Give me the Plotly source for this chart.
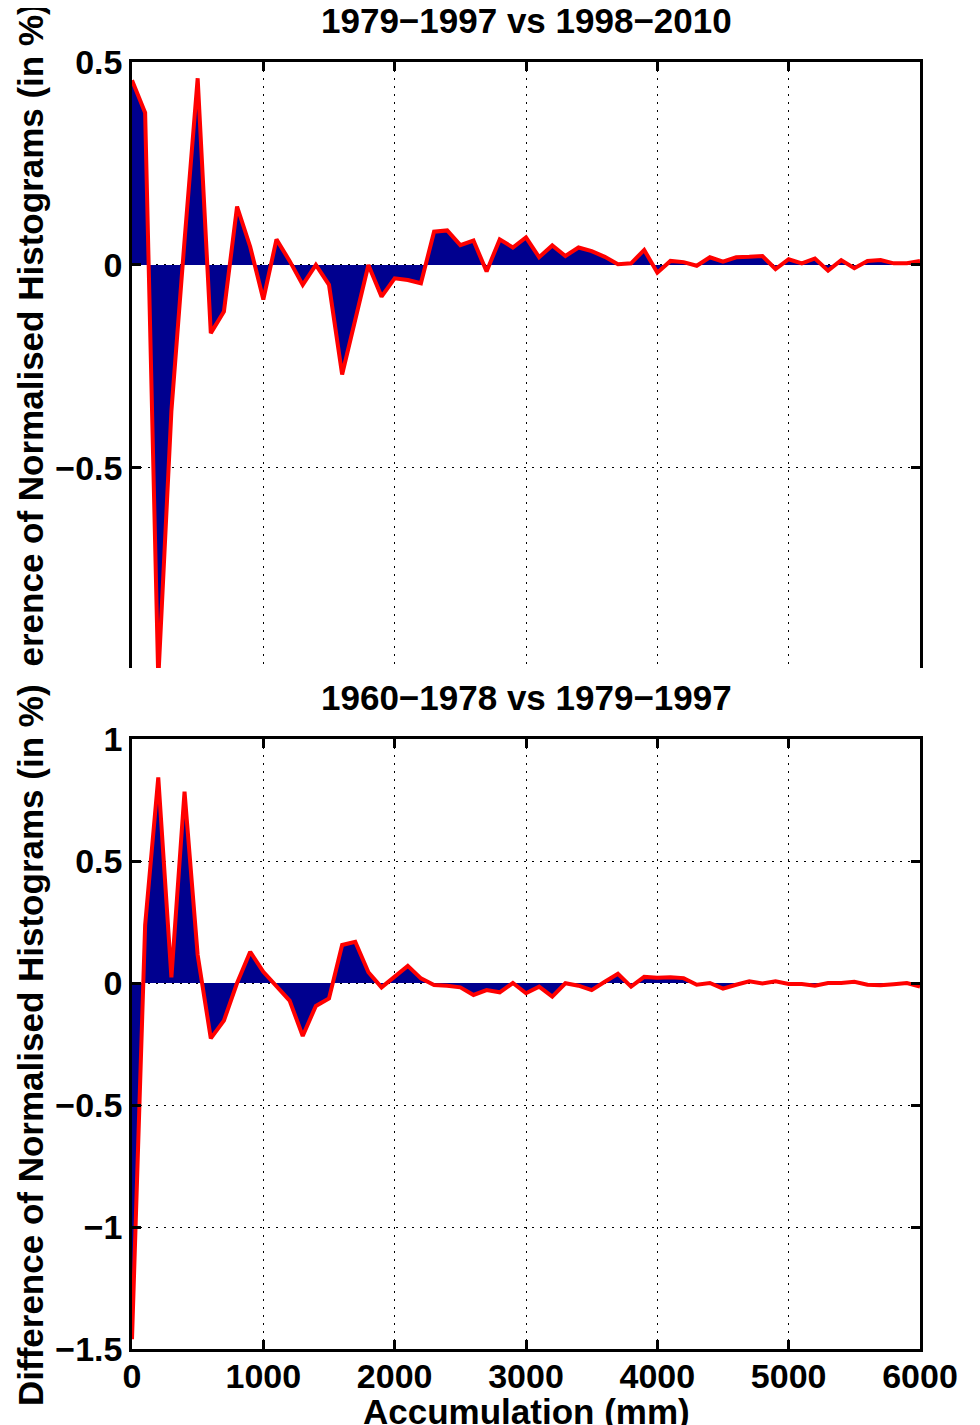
import plotly.graph_objects as go
from plotly.subplots import make_subplots

accumulation = list(range(0, 6001, 100))

diff_79_97_vs_98_10 = [
    0.455, 0.375, -1.02, -0.36, 0.06, 0.46, -0.168, -0.115, 0.144, 0.045,
    -0.085, 0.063, 0.01, -0.049, 0.0, -0.049, -0.27, -0.137, 0.0, -0.078,
    -0.033, -0.037, -0.045, 0.082, 0.085, 0.049, 0.06, -0.016, 0.063, 0.043,
    0.068, 0.019, 0.048, 0.022, 0.043, 0.034, 0.02, 0.002, 0.004, 0.037,
    -0.019, 0.01, 0.007, -0.002, 0.019, 0.008, 0.019, 0.02, 0.022, -0.01,
    0.014, 0.004, 0.016, -0.014, 0.012, -0.008, 0.01, 0.012, 0.004, 0.004,
    0.01,
]

diff_60_78_vs_79_97 = [
    -1.46, 0.237, 0.843, 0.023, 0.784, 0.115, -0.227, -0.154, 0.0, 0.128,
    0.046, -0.015, -0.072, -0.217, -0.094, -0.063, 0.156, 0.169, 0.044, -0.018,
    0.028, 0.07, 0.019, -0.008, -0.011, -0.018, -0.049, -0.029, -0.038, 0.0,
    -0.042, -0.015, -0.056, -0.001, -0.011, -0.029, 0.005, 0.038, -0.015, 0.025,
    0.022, 0.024, 0.02, -0.007, 0.0, -0.023, -0.007, 0.007, -0.002, 0.007,
    -0.004, -0.004, -0.011, 0.0, 0.0, 0.005, -0.007, -0.009, -0.005, 0.0,
    -0.015,
]

title_top = "1979\u22121997 vs 1998\u22122010"
title_bottom = "1960\u22121978 vs 1979\u22121997"
ylabel = "Difference of Normalised Histograms (in %)"
ylabel_top_visible = "erence of Normalised Histograms (in %)"
xlabel = "Accumulation (mm)"

W, H = 980, 1425
OFF = 8  # default page body margin
FONT = "Liberation Sans, Arial, Helvetica, sans-serif"
FS_TICK = 34
FS_TEXT = 35
NAVY = "rgb(0,0,143)"

def fx(p):
    return p - OFF

def py(p):
    return 1 - (p - OFF) / H

L, R = fx(132), fx(920)

def px(p):
    return (fx(p) - L) / (R - L)

fig = make_subplots(rows=2, cols=1)

fig.add_trace(go.Scatter(x=accumulation, y=diff_79_97_vs_98_10, mode="lines",
                         fill="tozeroy", fillcolor=NAVY,
                         line=dict(color="red", width=4),
                         showlegend=False), row=1, col=1)
fig.add_trace(go.Scatter(x=accumulation, y=diff_60_78_vs_79_97, mode="lines",
                         fill="tozeroy", fillcolor=NAVY,
                         line=dict(color="red", width=4),
                         showlegend=False), row=2, col=1)

grid = dict(showgrid=True, gridcolor="black", gridwidth=1.3, griddash="2px,6px",
            zeroline=False, ticks="inside", ticklen=9, tickwidth=2.5,
            tickcolor="black", linecolor="black", linewidth=2.5, showline=True,
            automargin=False,
            tickfont=dict(family=FONT, size=FS_TICK, color="black", weight="bold"))

xt = [0, 1000, 2000, 3000, 4000, 5000, 6000]

fig.update_layout(
    width=W, height=H,
    margin=dict(l=L, r=W - R, t=0, b=0, autoexpand=False),
    paper_bgcolor="white", plot_bgcolor="white",
    font=dict(family=FONT, size=FS_TEXT, color="black", weight="bold"),
    xaxis=dict(domain=[0, 1], range=[0, 6000], tickvals=xt,
               side="top", mirror=False, showticklabels=False, **grid),
    yaxis=dict(domain=[py(668), py(62)], range=[-0.993, 0.5], tickvals=[-0.5, 0, 0.5],
               mirror="ticks", **grid),
    xaxis2=dict(domain=[0, 1], range=[0, 6000], tickvals=xt,
                mirror="ticks", ticklabelstandoff=-5, **grid),
    yaxis2=dict(domain=[py(1349), py(739)], range=[-1.5, 1],
                tickvals=[-1.5, -1, -0.5, 0, 0.5, 1], mirror="ticks", **grid),
)

ann_font = dict(family=FONT, size=FS_TEXT, color="black", weight="bold")
fig.add_annotation(text=title_top, xref="paper", yref="paper", x=0.5, y=py(20),
                   xanchor="center", yanchor="middle", showarrow=False, font=ann_font)
fig.add_annotation(text=title_bottom, xref="paper", yref="paper", x=0.5, y=py(697),
                   xanchor="center", yanchor="middle", showarrow=False, font=ann_font)
fig.add_annotation(text=ylabel, xref="paper", yref="paper", x=px(30), y=py(1045),
                   xanchor="center", yanchor="middle", textangle=-90, showarrow=False,
                   font=ann_font)
fig.add_annotation(text=ylabel_top_visible, xref="paper", yref="paper", x=px(30),
                   y=py(669), xanchor="center", yanchor="bottom", textangle=-90,
                   showarrow=False, font=ann_font)
fig.add_annotation(text=xlabel, xref="paper", yref="paper", x=0.5, y=py(1411),
                   xanchor="center", yanchor="middle", showarrow=False, font=ann_font)

fig.write_html("out.html")
